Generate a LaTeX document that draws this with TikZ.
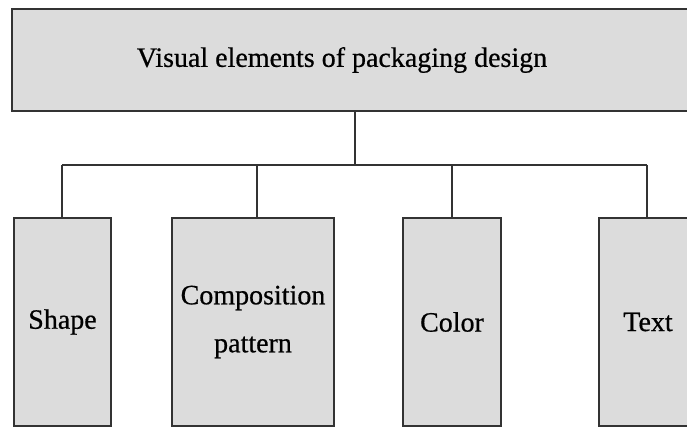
\documentclass[tikz,border=0pt]{standalone}
\usepackage{fontspec}
\setmainfont{Liberation Serif}[FakeBold=0.6]
\usepackage{xcolor}
\usepackage{tikz}
\usetikzlibrary{positioning,calc}

\definecolor{boxfill}{HTML}{DCDCDC}
\definecolor{boxline}{HTML}{333333}

\begin{document}
\begin{tikzpicture}[
  x=1pt, y=-1pt,
  box/.style={rectangle, draw=boxline, fill=boxfill, line width=2.2pt, inner sep=0pt, font=\fontsize{28}{48}\selectfont, text=black, align=center},
  link/.style={draw=boxline, line width=2.2pt}
]
\clip (0,0) rectangle (687,427);
\fill[white] (0,0) rectangle (687,427);

% Top box
\node[box, minimum width=686pt, minimum height=102pt] (top) at (355,60) {Visual elements of packaging design\hspace*{26pt}};

% Element boxes
\node[box, minimum width=97pt, minimum height=208pt] (shape) at (62.5,322) {Shape};
\node[box, minimum width=162pt, minimum height=208pt] (comp) at (253,322) {Composition\\pattern};
\node[box, minimum width=98pt, minimum height=208pt] (color) at (452,322) {Color};
\node[box, minimum width=98pt, minimum height=208pt] (txt) at (648,322) {Text};

% Connectors
\coordinate (bus) at (355,165);
\coordinate (sj) at (62,165);
\coordinate (cj) at (257,165);
\coordinate (tj) at (647,165);
\draw[link] (top) -- (bus);
\draw[link] (sj) -- (tj);
\draw[link] (sj) -- (sj |- shape.north);
\draw[link] (cj) -- (cj |- comp.north);
\draw[link] (color.north |- bus) -- (color);
\draw[link] (tj) -- (tj |- txt.north);

\end{tikzpicture}
\end{document}
